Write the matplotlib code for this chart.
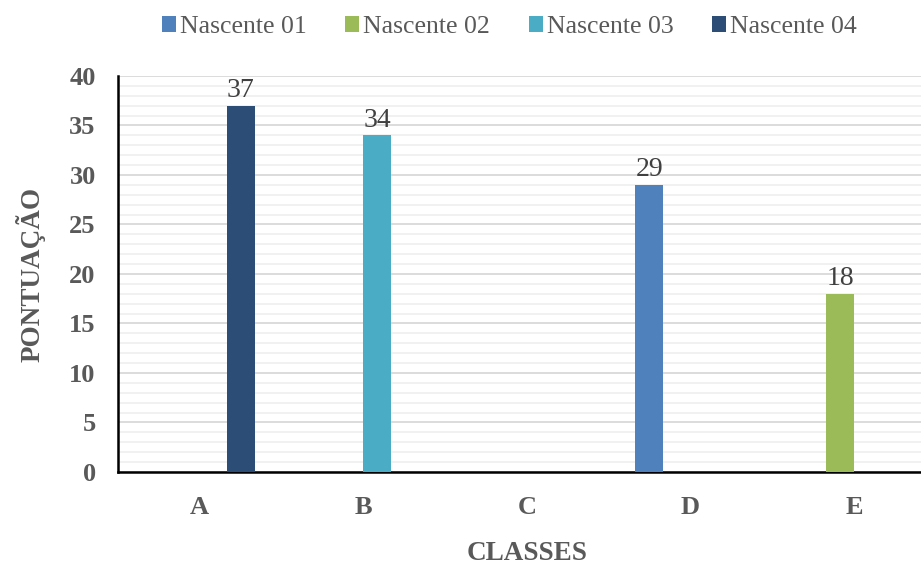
import numpy as np
import matplotlib.pyplot as plt
from matplotlib.ticker import MultipleLocator

plt.rcParams['font.family'] = ['Liberation Serif', 'DejaVu Serif']

classes = ['A', 'B', 'C', 'D', 'E']
nascente_01 = [0, 0, 0, 29, 0]
nascente_02 = [0, 0, 0, 0, 18]
nascente_03 = [0, 34, 0, 0, 0]
nascente_04 = [37, 0, 0, 0, 0]

series = [nascente_01, nascente_02, nascente_03, nascente_04]
names = ['Nascente 01', 'Nascente 02', 'Nascente 03', 'Nascente 04']
colors = ['#4f81bd', '#9bbb59', '#4bacc6', '#2c4d75']

fig = plt.figure(figsize=(9.21, 5.69), dpi=100)
ax = fig.add_axes([0.128, 0.1705, 0.888, 0.696])

x = np.arange(len(classes))
w = 0.168
for i, (vals, name, c) in enumerate(zip(series, names, colors)):
    bars = ax.bar(x + (i - 1.5) * w, vals, w, color=c, label=name, zorder=3)
    ax.bar_label(bars, labels=[str(v) if v else '' for v in vals],
                 padding=2, fontsize=20, color='#404040')

ax.set_xlim(-0.5, 4.5)
ax.set_ylim(0, 40)
ax.set_xticks(x)
ax.set_xticklabels(classes)
ax.yaxis.set_major_locator(MultipleLocator(5))
ax.yaxis.set_minor_locator(MultipleLocator(1))
ax.grid(axis='y', which='major', color='#d9d9d9', lw=1.3, zorder=0)
ax.grid(axis='y', which='minor', color='#f0f0f0', lw=1.3, zorder=0)
ax.tick_params(which='both', length=0)
ax.tick_params(axis='y', pad=16, labelsize=19, labelcolor='#595959')
ax.tick_params(axis='x', pad=17, labelsize=19, labelcolor='#595959')
for lab in ax.get_xticklabels() + ax.get_yticklabels():
    lab.set_fontweight('bold')

for s in ['top', 'right']:
    ax.spines[s].set_visible(False)
for s in ['left', 'bottom']:
    ax.spines[s].set_color('black')
    ax.spines[s].set_linewidth(1.8)

ax.set_xlabel('CLASSES', fontsize=19.5, fontweight='bold', color='#595959', labelpad=16)
ax.set_ylabel('PONTUAÇÃO', fontsize=19.5, fontweight='bold', color='#595959', labelpad=17)

fig.legend(loc='upper center', bbox_to_anchor=(0.553, 1.012), ncol=4, frameon=False,
           fontsize=18.5, labelcolor='#595959', handlelength=0.55, handleheight=0.55,
           handletextpad=0.15, columnspacing=1.5)

fig.savefig('out.png', dpi=100)
